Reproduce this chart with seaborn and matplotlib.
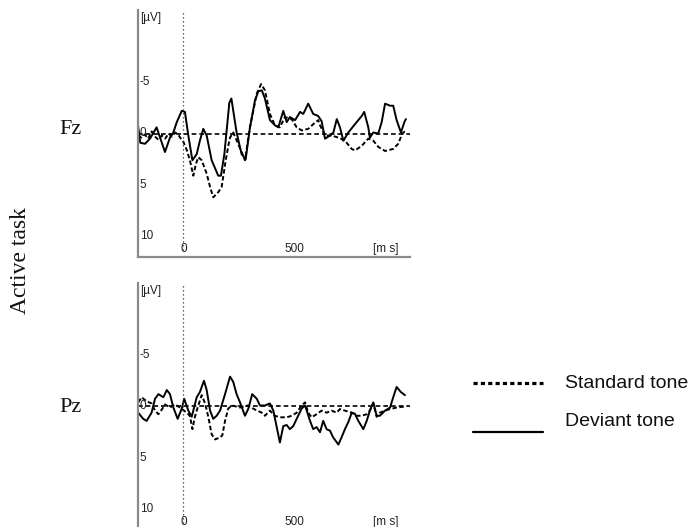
import numpy as np
import pandas as pd
import matplotlib
matplotlib.use("Agg")
import matplotlib.pyplot as plt
from matplotlib.lines import Line2D
import seaborn as sns

# ---------------- data ----------------
electrodes = ["Fz", "Pz"]
conditions = ["Standard tone", "Deviant tone"]

fz_dev_t = [-200, -190, -169, -147, -118, -81, -59, -44, -29, -7, 7, 22, 40, 59, 73, 88, 103,
            125, 154, 166, 181, 203, 212, 235, 257, 275, 294, 316, 331, 346, 360, 382, 404,
            419, 441, 456, 470, 493, 515, 529, 551, 573, 595, 610, 625, 647, 662, 677, 691,
            706, 728, 757, 787, 798, 816, 823, 838, 860, 875, 890, 912, 926, 941, 960, 975, 982]
fz_dev_v = [-0.8, 0.9, 1.0, 0.5, -0.6, 1.8, 0.4, -0.1, -1.1, -2.2, -2.1, 0.2, 2.6, 2.0, 0.7,
            -0.45, 0.2, 2.6, 4.1, 4.1, 2.0, -3.0, -3.4, -0.1, 2.0, 2.5, -0.6, -3.2, -4.1, -4.2,
            -3.4, -1.3, -0.8, -0.6, -2.2, -1.1, -1.6, -1.3, -2.1, -1.9, -2.9, -1.9, -1.7, -1.2,
            0.5, 0.2, -0.1, -1.4, -0.6, 0.7, -0.1, -0.9, -1.7, -2.1, -0.6, 0.4, -0.1, 0.0, -1.1,
            -2.9, -2.7, -2.7, -1.3, -0.1, -1.1, -1.4]

fz_std_t = [-200, -185, -170, -155, -140, -125, -110, -95, -80, -65, -50, -35, -20, -8, 0, 15,
            29, 44, 55, 66, 81, 103, 118, 132, 154, 169, 187, 201, 206, 220, 242, 272, 294, 324,
            343, 360, 382, 404, 426, 448, 478, 500, 522, 551, 573, 595, 603, 625, 654, 684, 713,
            743, 757, 787, 816, 838, 860, 890, 926, 948, 966, 982]
fz_std_v = [0.2, 0.4, 0.1, 0.5, -0.2, 0.3, 0.6, 0.2, 0.5, 0.0, 0.3, -0.1, 0.2, 0.6, 0.8, 1.6,
            2.6, 4.1, 3.0, 2.3, 2.6, 3.9, 5.2, 6.2, 5.7, 5.2, 2.6, 0.9, 0.4, -0.1, 1.0, 2.6, -0.6,
            -3.9, -4.8, -4.2, -1.9, -0.8, -0.6, -1.6, -1.4, -0.6, -0.3, -0.45, -0.9, -1.3, -0.8,
            0.2, 0.2, 0.4, 0.7, 1.5, 1.65, 1.2, 0.5, 0.7, 1.3, 1.7, 1.5, 1.0, 0.0, -0.3]

pz_dev_t = [-199, -177, -162, -140, -125, -110, -88, -73, -59, -44, -25, -7, 4, 22, 37, 59, 73,
            91, 103, 118, 132, 147, 162, 184, 206, 220, 235, 250, 272, 287, 304, 324, 338, 360,
            382, 397, 412, 426, 441, 456, 470, 485, 500, 522, 537, 559, 573, 588, 603, 617, 632,
            647, 661, 684, 698, 713, 728, 743, 757, 772, 794, 809, 823, 838, 853, 867, 890, 912,
            926, 941, 960, 978]
pz_dev_v = [0.6, 1.2, 1.4, 0.6, -0.75, -1.2, -0.9, -1.6, -1.2, 0.1, 1.2, 0.2, -0.75, 0.4, 1.0,
            -0.9, -1.4, -2.5, -1.6, 0.4, 1.2, 0.9, 0.4, -1.2, -2.9, -2.4, -1.2, -0.4, 0.9, 0.2,
            -1.2, -0.75, -0.1, -0.1, -0.3, 0.4, 2.0, 3.5, 1.9, 1.8, 2.2, 1.9, 1.2, 0.2, -0.1,
            1.4, 2.2, 2.0, 2.5, 1.4, 2.2, 2.35, 3.0, 3.7, 3.0, 2.2, 1.5, 0.6, 0.7, 1.4, 2.2, 1.4,
            0.4, -0.4, 0.9, 0.9, 0.4, 0.1, -0.9, -1.9, -1.4, -1.1]

pz_std_t = [-199, -184, -162, -140, -125, -110, -95, -81, -59, -37, -15, 15, 29, 40, 51, 66, 81,
            96, 110, 125, 140, 162, 172, 184, 198, 215, 250, 285, 316, 346, 360, 382, 404, 426,
            456, 478, 500, 522, 537, 551, 566, 588, 610, 632, 654, 676, 691, 713, 743, 765, 787,
            809, 823, 838, 853, 867, 890, 912, 941, 978]
pz_std_v = [-0.4, -0.9, -0.5, -0.3, 0.4, 0.75, 0.3, -0.2, 0.1, -0.2, 0.1, 0.6, 0.9, 2.2, 1.0,
            -0.1, -1.1, -0.3, 1.0, 2.7, 3.2, 3.0, 2.8, 1.4, 0.2, -0.1, 0.1, -0.1, 0.3, 0.6, 0.9,
            0.4, 0.9, 1.05, 1.05, 0.9, 0.6, -0.1, -0.4, 0.6, 1.05, 0.75, 0.4, 0.6, 0.4, 0.6, 0.25,
            0.4, 0.6, 0.9, 0.9, 0.75, 0.4, -0.3, 1.0, 0.6, 0.4, 0.25, 0.1, 0.0]

y_tick_vals = [-5, 0, 5, 10]
y_tick_labels = ["-5", "0", "5", "10"]
x_tick_vals = [0, 500]
x_tick_labels = ["0", "500"]
y_unit = "[µV]"
x_unit = "[m s]"
row_label = "Active task"

# ---------------- build table ----------------
frames = []
for el, cond, t, v in [("Fz", "Deviant tone", fz_dev_t, fz_dev_v),
                       ("Fz", "Standard tone", fz_std_t, fz_std_v),
                       ("Pz", "Deviant tone", pz_dev_t, pz_dev_v),
                       ("Pz", "Standard tone", pz_std_t, pz_std_v)]:
    frames.append(pd.DataFrame({"time": t, "amp": v, "condition": cond, "electrode": el}))
df = pd.concat(frames, ignore_index=True)

# ---------------- style ----------------
sns.set_theme(style="white")
plt.rcParams["font.family"] = ["Liberation Sans", "DejaVu Sans"]

W, H = 700, 527
fig = plt.figure(figsize=(7.0, 5.27), dpi=100)

def fx(px):
    return px / W

def fy(py):
    return 1 - py / H

axes_px = {"Fz": (138, 10, 410, 257), "Pz": (138, 283, 410, 530)}
spine_col = "#8a8a8a"
text_col = "#222222"

for el in electrodes:
    l, t, r, b = axes_px[el]
    ax = fig.add_axes([fx(l), fy(b), fx(r - l), (b - t) / H])
    sub = df[df["electrode"] == el]
    sns.lineplot(data=sub, x="time", y="amp", hue="condition", style="condition",
                 palette={"Standard tone": "black", "Deviant tone": "black"},
                 dashes={"Standard tone": (2.3, 1.3), "Deviant tone": ""},
                 estimator=None, sort=False, legend=False, linewidth=1.4, ax=ax)
    ax.axhline(0, color="black", lw=1.2, dashes=(2.8, 1.8))
    ax.axvline(0, ymin=0.03, ymax=0.99, color="#333333", lw=0.9, ls=(0, (1, 2.2)))
    ax.set_xlim(-200, 1000)
    ax.set_ylim(12, -12)
    ax.set_xticks([])
    ax.set_yticks([])
    ax.set_xlabel("")
    ax.set_ylabel("")
    ax.patch.set_alpha(0)
    for s in ["top", "right"]:
        ax.spines[s].set_visible(False)
    ax.spines["left"].set_color(spine_col)
    ax.spines["left"].set_linewidth(1.6)
    ax.spines["bottom"].set_color(spine_col)
    ax.spines["bottom"].set_linewidth(1.6)
    if el == "Pz":
        ax.spines["bottom"].set_visible(False)
    # inner tick labels
    for val, lab in zip(y_tick_vals, y_tick_labels):
        ax.text(-192, val, lab, ha="left", va="center", fontsize=8.5, color=text_col)
    ax.text(-192, -11.2, y_unit, ha="left", va="center", fontsize=8.5, color=text_col)
    for val, lab in zip(x_tick_vals, x_tick_labels):
        ax.text(val if val != 500 else 490, 11.2, lab, ha="center", va="center",
                fontsize=8.5, color=text_col)
    ax.text(895, 11.2, x_unit, ha="center", va="center", fontsize=8.5, color=text_col)

# electrode labels and row label
fig.text(fx(70), fy(130), "Fz", ha="center", va="center", fontsize=16,
         family=["Liberation Serif", "DejaVu Serif"], color="#111111")
fig.text(fx(70), fy(407), "Pz", ha="center", va="center", fontsize=16,
         family=["Liberation Serif", "DejaVu Serif"], color="#111111")
fig.text(fx(21), fy(261), row_label, ha="center", va="center", rotation=90, fontsize=17,
         family=["Liberation Serif", "DejaVu Serif"], color="#111111")

# legend
fig.add_artist(Line2D([fx(473), fx(543)], [fy(383), fy(383)], color="black", lw=2.3,
                      dashes=(1.3, 1.0), solid_capstyle="butt", dash_capstyle="butt"))
fig.add_artist(Line2D([fx(473), fx(543)], [fy(432), fy(432)], color="black", lw=1.6))
fig.text(fx(565), fy(383), conditions[0], ha="left", va="center", fontsize=14, color="#111111")
fig.text(fx(565), fy(422), conditions[1], ha="left", va="center", fontsize=14, color="#111111")

fig.savefig("out.png", dpi=100)
